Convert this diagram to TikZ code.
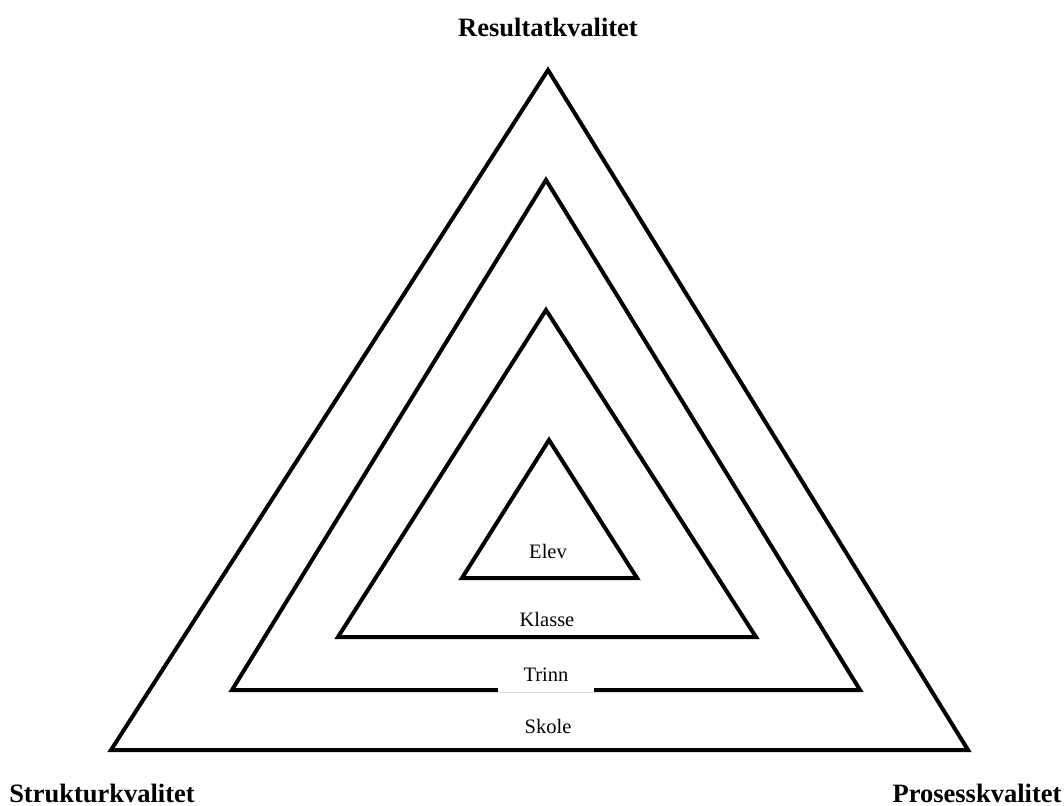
\documentclass[tikz,border=0pt]{standalone}
\usepackage{fontspec}
\setmainfont{Liberation Serif}
\begin{document}
\begin{tikzpicture}[x=1pt,y=-1pt,
  tri/.style={draw=black,line width=4pt,line join=miter},
  corner/.style={font=\fontsize{26.5}{30}\selectfont\bfseries,inner sep=0pt},
  level/.style={font=\fontsize{20.5}{24}\selectfont,inner sep=0pt}]
  \useasboundingbox (0,0) rectangle (1064,805);

  % nested triangles, outermost first
  \draw[tri] (548,70) -- (111,750) -- (968,750) -- cycle;
  \draw[tri] (546,180) -- (232,690) -- (860,690) -- cycle;
  \draw[tri] (546,310) -- (338,637) -- (756,637) -- cycle;
  \draw[tri] (549,440) -- (462,578) -- (637,578) -- cycle;

  % corner captions
  \node[corner] (res) at (548,27) {Resultatkvalitet};
  \node[corner] (str) at (102,793) {Strukturkvalitet};
  \node[corner] (pro) at (977,793) {Prosesskvalitet};

  % level names
  \node[level] (elev) at (548,551) {Elev};
  \node[level] (klasse) at (547,619) {Klasse};
  \node[level,fill=white,minimum width=96pt,minimum height=36pt,anchor=south]
    (trinn) at (546,692.5) {Trinn};
  \node[level] (skole) at (548,726) {Skole};
\end{tikzpicture}
\end{document}
